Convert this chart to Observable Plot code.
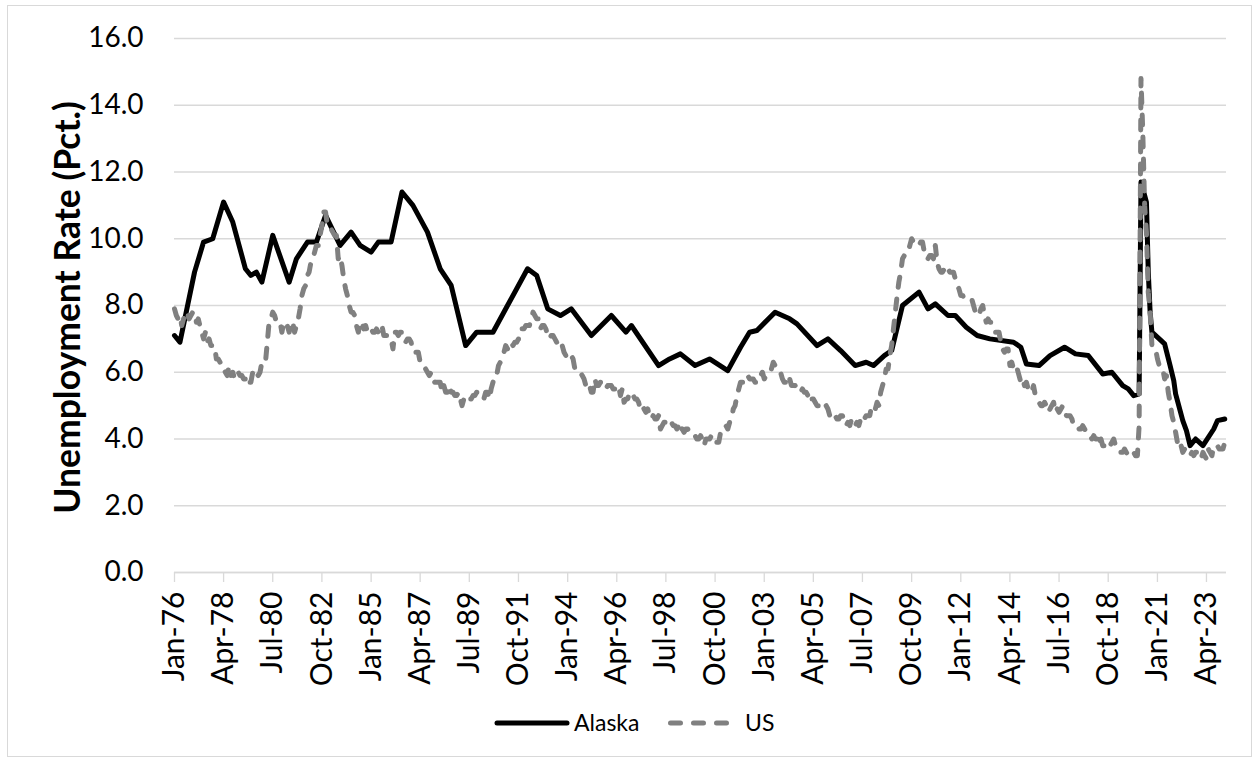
<!DOCTYPE html>
<html><head><meta charset="utf-8">
<script src="https://cdn.jsdelivr.net/npm/d3@7"></script>
<script src="https://cdn.jsdelivr.net/npm/@observablehq/plot@0.6"></script>
<style>
html,body{margin:0;padding:0;background:#fff;}
#wrap{position:relative;width:1253px;height:760px;overflow:hidden;font-family:Lato,sans-serif;}
#border{position:absolute;left:7px;top:5px;width:1245px;height:752px;border:1.3px solid #d9d9d9;box-sizing:border-box;}
#chart{position:absolute;left:0;top:0;}
#legend{position:absolute;left:0;top:704px;}
</style></head>
<body>
<div id="wrap"><div id="border"></div><div id="chart"></div>
<svg id="legend" width="1253" height="40"></svg></div>
<script>
// ---- data ----
const yTitle = "Unemployment Rate (Pct.)";
const seriesNames = ["Alaska", "US"];
const xTickLabels = ["Jan-76","Apr-78","Jul-80","Oct-82","Jan-85","Apr-87","Jul-89","Oct-91","Jan-94","Apr-96","Jul-98","Oct-00","Jan-03","Apr-05","Jul-07","Oct-09","Jan-12","Apr-14","Jul-16","Oct-18","Jan-21","Apr-23"];
const yTicks = [0,2,4,6,8,10,12,14,16];

// Alaska: readings (month, rate)
const akDates = ["1976-01","1976-04","1976-12","1977-05","1977-10","1978-04","1978-09","1979-04","1979-07","1979-10","1980-01","1980-07","1981-04","1981-08","1982-02","1982-07","1982-12","1983-08","1984-02","1984-07","1985-01","1985-05","1985-12","1986-06","1986-12","1987-08","1988-03","1988-09","1989-05","1989-11","1990-08","1991-04","1992-03","1992-08","1993-02","1993-09","1994-03","1995-02","1996-01","1996-09","1996-12","1998-03","1998-09","1999-03","1999-11","2000-07","2001-05","2001-12","2002-05","2002-09","2003-07","2004-03","2004-07","2005-06","2005-12","2006-07","2007-03","2007-09","2008-01","2008-07","2008-11","2009-05","2010-02","2010-07","2010-11","2011-06","2011-10","2012-04","2012-10","2013-05","2014-06","2014-10","2015-01","2015-08","2016-02","2016-10","2017-04","2017-11","2018-07","2018-12","2019-06","2019-09","2019-12","2020-03","2020-04","2020-05","2020-06","2020-07","2020-08","2020-09","2020-10","2021-02","2021-05","2021-08","2021-10","2021-11","2022-03","2022-05","2022-07","2022-10","2023-02","2023-08","2023-10","2024-02"];
const akValues = [7.1,6.9,9.0,9.9,10.0,11.1,10.5,9.1,8.9,9.0,8.7,10.1,8.7,9.4,9.9,9.9,10.7,9.8,10.2,9.8,9.6,9.9,9.9,11.4,11.0,10.2,9.1,8.6,6.8,7.2,7.2,8.0,9.1,8.9,7.9,7.7,7.9,7.1,7.7,7.2,7.4,6.2,6.4,6.55,6.2,6.4,6.05,6.75,7.2,7.25,7.8,7.6,7.45,6.8,7.0,6.65,6.2,6.3,6.2,6.5,6.65,8.0,8.4,7.9,8.05,7.7,7.7,7.35,7.1,7.0,6.9,6.75,6.25,6.2,6.5,6.75,6.55,6.5,5.95,6.0,5.6,5.5,5.3,5.35,11.7,11.5,11.3,11.1,9.0,7.8,7.2,7.0,6.85,6.2,5.75,5.35,4.55,4.25,3.8,4.0,3.8,4.3,4.55,4.6];

// US: monthly, Jan 1976 - Feb 2024
const usStart = "1976-01";
const usValues = [
7.9,7.7,7.6,7.7,7.4,7.6,7.8,7.8,7.6,7.7,7.8,7.8,
7.5,7.6,7.4,7.2,7.0,7.2,6.9,7.0,6.8,6.8,6.8,6.4,
6.4,6.3,6.3,6.1,6.0,5.9,6.2,5.9,6.0,5.8,5.9,6.0,
5.9,5.9,5.8,5.8,5.6,5.7,5.7,6.0,5.9,6.0,5.9,6.0,
6.3,6.3,6.3,6.9,7.5,7.6,7.8,7.7,7.5,7.5,7.5,7.2,
7.5,7.4,7.4,7.2,7.5,7.5,7.2,7.4,7.6,7.9,8.3,8.5,
8.6,8.9,9.0,9.3,9.4,9.6,9.8,9.8,10.1,10.4,10.8,10.8,
10.4,10.4,10.3,10.2,10.1,10.1,9.4,9.5,9.2,8.8,8.5,8.3,
8.0,7.8,7.8,7.7,7.4,7.2,7.5,7.5,7.3,7.4,7.2,7.3,
7.3,7.2,7.2,7.3,7.2,7.4,7.4,7.1,7.1,7.1,7.0,7.0,
6.7,7.2,7.2,7.1,7.2,7.2,7.0,6.9,7.0,7.0,6.9,6.6,
6.6,6.6,6.6,6.3,6.3,6.2,6.1,6.0,5.9,6.0,5.8,5.7,
5.7,5.7,5.7,5.4,5.6,5.4,5.4,5.6,5.4,5.4,5.3,5.3,
5.4,5.2,5.0,5.2,5.2,5.3,5.2,5.2,5.3,5.3,5.4,5.4,
5.4,5.3,5.2,5.4,5.4,5.2,5.5,5.7,5.9,5.9,6.2,6.3,
6.4,6.6,6.8,6.7,6.9,6.9,6.8,6.9,6.9,7.0,7.0,7.3,
7.3,7.4,7.4,7.4,7.6,7.8,7.7,7.6,7.6,7.3,7.4,7.4,
7.3,7.1,7.0,7.1,7.1,7.0,6.9,6.8,6.7,6.8,6.6,6.5,
6.6,6.6,6.5,6.4,6.1,6.1,6.1,6.0,5.9,5.8,5.6,5.5,
5.6,5.4,5.4,5.8,5.6,5.6,5.7,5.7,5.6,5.5,5.6,5.6,
5.6,5.5,5.5,5.6,5.6,5.3,5.5,5.1,5.2,5.2,5.4,5.4,
5.3,5.2,5.2,5.1,4.9,5.0,4.9,4.8,4.9,4.7,4.6,4.7,
4.6,4.6,4.7,4.3,4.4,4.5,4.5,4.5,4.6,4.5,4.4,4.4,
4.3,4.4,4.2,4.3,4.2,4.3,4.3,4.2,4.2,4.1,4.1,4.0,
4.0,4.1,4.0,3.8,4.0,4.0,4.0,4.1,3.9,3.9,3.9,3.9,
4.2,4.2,4.3,4.4,4.3,4.5,4.6,4.9,5.0,5.3,5.5,5.7,
5.7,5.7,5.7,5.9,5.8,5.8,5.8,5.7,5.7,5.7,5.9,6.0,
5.8,5.9,5.9,6.0,6.1,6.3,6.2,6.1,6.1,6.0,5.8,5.7,
5.7,5.6,5.8,5.6,5.6,5.6,5.5,5.4,5.4,5.5,5.4,5.4,
5.3,5.4,5.2,5.2,5.1,5.0,5.0,4.9,5.0,5.0,5.0,4.9,
4.7,4.8,4.7,4.7,4.6,4.6,4.7,4.7,4.5,4.4,4.5,4.4,
4.6,4.5,4.4,4.5,4.4,4.6,4.7,4.6,4.7,4.7,4.7,5.0,
5.0,4.9,5.1,5.0,5.4,5.6,5.8,6.1,6.1,6.5,6.8,7.3,
7.8,8.3,8.7,9.0,9.4,9.5,9.5,9.6,9.8,10.0,9.9,9.9,
9.8,9.8,9.9,9.9,9.6,9.4,9.4,9.5,9.5,9.4,9.8,9.3,
9.1,9.0,9.0,9.1,9.0,9.1,9.0,9.0,9.0,8.8,8.6,8.5,
8.3,8.3,8.2,8.2,8.2,8.2,8.2,8.0,7.8,7.8,7.7,7.9,
8.0,7.7,7.5,7.6,7.5,7.5,7.3,7.2,7.2,7.2,6.9,6.7,
6.6,6.7,6.7,6.2,6.3,6.1,6.2,6.1,5.9,5.7,5.8,5.6,
5.7,5.5,5.4,5.4,5.6,5.3,5.2,5.1,5.0,5.0,5.1,5.0,
4.8,4.9,5.0,5.1,4.8,4.9,4.8,4.9,5.0,4.9,4.7,4.7,
4.7,4.6,4.4,4.4,4.4,4.3,4.3,4.4,4.3,4.2,4.2,4.1,
4.0,4.1,4.0,4.0,3.8,4.0,3.8,3.8,3.7,3.8,3.8,3.9,
4.0,3.8,3.8,3.7,3.6,3.6,3.7,3.6,3.5,3.6,3.6,3.6,
3.5,3.5,4.4,14.8,13.2,11.0,10.2,8.4,7.8,6.8,6.7,6.7,
6.4,6.2,6.1,6.1,5.8,5.9,5.4,5.1,4.7,4.5,4.2,3.9,
4.0,3.8,3.6,3.7,3.6,3.6,3.5,3.6,3.5,3.6,3.6,3.5,
3.4,3.6,3.5,3.4,3.7,3.6,3.5,3.8,3.8,3.8,3.7,3.7,
3.7,3.9];

// ---- build ----
const parseMonth = d3.utcParse("%Y-%m");
const akData = akDates.map((d, i) => ({date: parseMonth(d), value: akValues[i]}));
const s0 = parseMonth(usStart);
const usData = usValues.map((v, i) => ({date: d3.utcMonth.offset(s0, i), value: v}));
const tickDates = xTickLabels.map(d3.utcParse("%b-%y"));
const grid = "#d9d9d9";

const chart = Plot.plot({
  width: 1253, height: 700,
  marginLeft: 174, marginRight: 27, marginTop: 38, marginBottom: 128,
  style: {fontFamily: "Lato, sans-serif", background: "transparent", overflow: "visible", color: "#000"},
  x: {type: "utc", domain: [parseMonth("1976-01"), parseMonth("2024-03")]},
  y: {domain: [0, 16]},
  marks: [
    Plot.gridY(yTicks, {stroke: grid, strokeOpacity: 1, strokeWidth: 1.3}),
    Plot.axisY(yTicks, {tickSize: 0, tickPadding: 31, tickFormat: d => d.toFixed(1), fontSize: 28, label: null, fill: "#000"}),
    Plot.axisX(tickDates, {tickFormat: (d, i) => xTickLabels[i], tickRotate: -90, tickSize: 10, tickPadding: 9, fontSize: 30, stroke: grid, strokeOpacity: 1, strokeWidth: 1.3, label: null, fill: "#000"}),
    Plot.ruleY([0], {stroke: grid, strokeWidth: 1.3}),
    Plot.line(akData, {x: "date", y: "value", stroke: "#000", strokeWidth: 5, strokeLinejoin: "round", strokeLinecap: "round"}),
    Plot.line(usData, {x: "date", y: "value", stroke: "#808080", strokeWidth: 5, strokeDasharray: "10,12", strokeLinecap: "round", strokeLinejoin: "round"}),
    Plot.text([yTitle], {text: d => d, frameAnchor: "left", textAnchor: "middle", rotate: -90, dx: -106, dy: 2, fontSize: 35.5, fontWeight: "bold", fill: "#000"})
  ]
});
document.getElementById("chart").appendChild(chart);

// legend (below the plot svg)
const lg = d3.select("#legend");
lg.append("line").attr("x1", 497).attr("x2", 567).attr("y1", 19).attr("y2", 19)
  .attr("stroke", "#000").attr("stroke-width", 5).attr("stroke-linecap", "round");
lg.append("text").attr("x", 574).attr("y", 27).text(seriesNames[0])
  .attr("font-family", "Lato, sans-serif").attr("font-size", 23).attr("fill", "#000");
lg.append("line").attr("x1", 670.5).attr("x2", 730.5).attr("y1", 19).attr("y2", 19)
  .attr("stroke", "#808080").attr("stroke-width", 5).attr("stroke-linecap", "round").attr("stroke-dasharray", "10,13");
lg.append("text").attr("x", 745).attr("y", 27).text(seriesNames[1])
  .attr("font-family", "Lato, sans-serif").attr("font-size", 23).attr("fill", "#000");
</script>
</body></html>
